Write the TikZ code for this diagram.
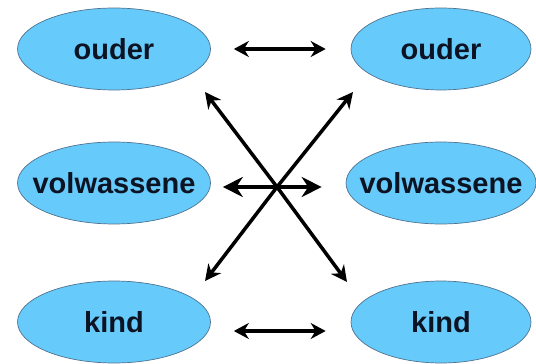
\documentclass[tikz,border=0pt]{standalone}
\usepackage{fontspec}
\setmainfont{Liberation Sans}
\usetikzlibrary{arrows.meta,shapes.geometric,positioning}
\definecolor{roleColor}{RGB}{102,202,250}
\definecolor{roleBorder}{RGB}{80,115,145}
\definecolor{roleText}{RGB}{12,20,36}
\tikzset{role/.style={ellipse, draw=roleBorder, fill=roleColor, thin, minimum width=3.86cm, minimum height=1.64cm, inner xsep=-0.4cm, inner ysep=0pt, text=roleText, font=\fontsize{16.5}{18}\selectfont\bfseries}}
\tikzset{roleR/.style={role, minimum width=3.6cm}}
\tikzstyle{linkarrow} = [{Stealth[length=0.3cm,width=0.32cm]}-{Stealth[length=0.3cm,width=0.32cm]}, line width=2.2pt]
\tikzstyle{bigarrow} = [{Stealth[length=0.4cm,width=0.4cm]}-{Stealth[length=0.4cm,width=0.4cm]}, line width=2.4pt]
\tikzstyle{diagarrow} = [-{Stealth[length=0.32cm,width=0.32cm]}, line width=2pt]

\begin{document}
\begin{tikzpicture}[x=0.02cm, y=-0.02cm]
	\useasboundingbox (0,0) rectangle (536,364);
	% Nodes
		\node (ouderL) [role] at (114,49) {ouder};
		\node (ouderR) [roleR] at (441,49) {ouder};
		\node (volwL) [role] at (114,183) {volwassene};
		\node (volwR) [role, minimum width=3.8cm] at (441,183) {volwassene};
		\node (kindL) [role] at (114,322) {kind};
		\node (kindR) [roleR] at (441,322) {kind};

		\coordinate (kruis) at (277,187);
		\coordinate (ouderLtip) at (205,92);
		\coordinate (ouderRtip) at (353,92);
		\coordinate (kindLtip) at (205,281);
		\coordinate (kindRtip) at (347,282);

		% Connectors
		\draw [linkarrow] ([xshift=0.46cm]ouderL.east) -- ([xshift=-0.5cm]ouderR.west);
		\draw [bigarrow] ([xshift=0.24cm,yshift=-0.08cm]volwL.east) -- ([xshift=-0.48cm,yshift=-0.08cm]volwR.west);
		\draw [linkarrow] ([xshift=0.46cm,yshift=-0.18cm]kindL.east) -- ([xshift=-0.5cm,yshift=-0.18cm]kindR.west);
		\draw [diagarrow] (kruis) -- (ouderLtip);
		\draw [diagarrow] (kruis) -- (kindRtip);
		\draw [diagarrow] (kruis) -- (ouderRtip);
		\draw [diagarrow] (kruis) -- (kindLtip);
\end{tikzpicture}
\end{document}
